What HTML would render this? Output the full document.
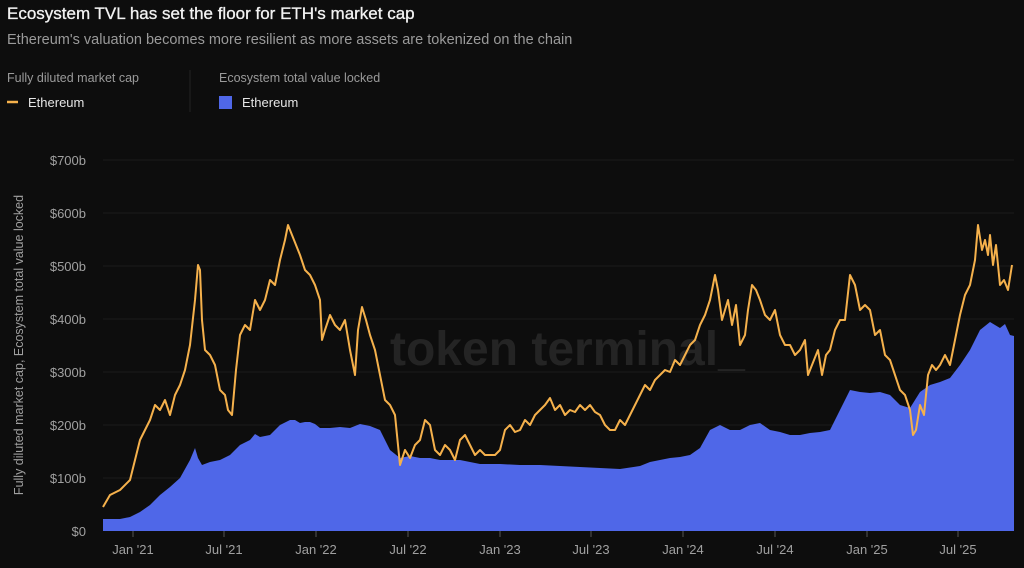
<!DOCTYPE html><html><head><meta charset="utf-8"><style>
body{margin:0;background:#0d0d0d;width:1024px;height:563px;overflow:hidden;font-family:"Liberation Sans",sans-serif}
</style></head><body>
<svg width="1024" height="563" xmlns="http://www.w3.org/2000/svg" font-family="Liberation Sans, sans-serif">
<rect width="1024" height="563" fill="#0d0d0d"/>
<text x="7" y="19" fill="#f2f2f2" font-size="17" stroke="#f2f2f2" stroke-width="0.3">Ecosystem TVL has set the floor for ETH's market cap</text>
<text x="7" y="44" fill="#9a9a9a" font-size="14.5">Ethereum's valuation becomes more resilient as more assets are tokenized on the chain</text>
<text x="7" y="82" fill="#9a9a9a" font-size="12.5">Fully diluted market cap</text>
<line x1="7" y1="102" x2="18" y2="102" stroke="#f5b14c" stroke-width="2.5"/>
<text x="28" y="107" fill="#e6e6e6" font-size="13">Ethereum</text>
<line x1="190" y1="70" x2="190" y2="112" stroke="#222" stroke-width="1"/>
<text x="219" y="82" fill="#9a9a9a" font-size="12.5">Ecosystem total value locked</text>
<rect x="219" y="96" width="13" height="13" fill="#4f67e8"/>
<text x="242" y="107" fill="#e6e6e6" font-size="13">Ethereum</text>
<g stroke="#1a1a1a" stroke-width="1">
<line x1="103" x2="1014" y1="160" y2="160"/><line x1="103" x2="1014" y1="213" y2="213"/><line x1="103" x2="1014" y1="266" y2="266"/><line x1="103" x2="1014" y1="319" y2="319"/><line x1="103" x2="1014" y1="372" y2="372"/><line x1="103" x2="1014" y1="425" y2="425"/><line x1="103" x2="1014" y1="478" y2="478"/>
</g>
<g fill="#a0a0a0" font-size="13" text-anchor="end">
<text x="86" y="165">$700b</text><text x="86" y="218">$600b</text><text x="86" y="271">$500b</text><text x="86" y="324">$400b</text><text x="86" y="377">$300b</text><text x="86" y="430">$200b</text><text x="86" y="483">$100b</text><text x="86" y="536">$0</text>
</g>
<text transform="translate(23,345) rotate(-90)" fill="#a0a0a0" font-size="12.5" text-anchor="middle">Fully diluted market cap, Ecosystem total value locked</text>
<text x="390" y="365" fill="#242424" font-size="48" font-weight="bold">token terminal_</text>
<polygon fill="#4f67e8" points="103,531 103,519 120,519 130,517 140,512 150,505 160,495 170,487 180,478 190,460 195,448 198,458 202,465 210,462 220,460 230,455 240,445 250,440 255,434 260,437 270,435 280,425 290,420 295,420 300,423 305,422 310,422 315,424 320,428 330,428 340,427 350,428 360,424 370,426 380,430 390,450 400,458 410,456 420,458 430,458 440,460 450,460 460,460 470,462 480,464 490,464 500,464 520,465 540,465 560,466 580,467 600,468 620,469 640,466 650,462 660,460 670,458 680,457 690,455 700,448 710,430 720,425 730,430 740,430 750,425 760,423 770,430 780,432 790,435 800,435 810,433 820,432 830,430 840,410 850,390 860,392 870,393 880,392 890,395 900,405 910,408 920,392 930,385 940,382 950,378 960,365 970,350 980,330 990,322 1000,328 1005,324 1010,335 1014,336 1014,531"/>
<polyline fill="none" stroke="#f5b14c" stroke-width="2" stroke-linejoin="round" points="103,507 110,495 120,490 130,480 135,460 140,440 145,430 150,420 155,405 160,410 165,400 170,415 175,395 180,385 185,370 190,345 195,300 198,265 200,270 202,320 205,350 210,355 215,365 220,390 225,395 228,410 232,415 236,370 240,335 245,325 250,330 255,300 260,310 265,300 270,280 275,285 280,260 285,240 288,225 292,235 296,245 300,255 305,270 310,275 315,285 320,300 322,340 325,330 330,315 335,325 340,330 345,320 350,350 355,375 358,330 362,307 366,320 370,335 375,350 380,375 385,400 390,405 395,415 400,465 405,450 410,458 415,445 420,440 425,420 430,425 435,450 440,455 445,445 450,450 455,460 460,440 465,435 470,445 475,455 480,450 485,455 490,455 495,455 500,450 505,430 510,425 515,432 520,430 525,420 530,425 535,415 540,410 545,405 550,398 555,410 560,405 565,415 570,410 575,412 580,405 585,410 590,405 595,412 600,415 605,425 610,430 615,430 620,420 625,425 630,415 635,405 640,395 645,385 650,390 655,380 660,375 665,370 670,372 675,360 680,365 685,355 690,345 695,340 700,325 705,315 710,300 715,275 718,290 722,320 728,300 732,325 736,305 740,345 745,335 748,310 752,285 756,290 760,300 765,315 770,320 775,310 780,335 785,345 790,345 795,355 800,350 805,340 808,375 812,365 818,350 822,375 826,355 830,350 835,330 840,320 845,320 850,275 855,285 860,310 865,305 870,310 875,335 880,330 885,355 890,360 895,375 900,390 905,395 910,410 913,435 916,430 920,405 924,415 928,375 932,365 936,370 940,365 945,355 950,365 955,340 960,315 965,295 970,285 975,260 978,225 982,250 985,240 988,255 990,235 993,265 996,245 1000,285 1004,280 1008,290 1012,265"/>
<g stroke="#555" stroke-width="1"><line x1="133" x2="133" y1="531" y2="537"/><line x1="224" x2="224" y1="531" y2="537"/><line x1="316" x2="316" y1="531" y2="537"/><line x1="408" x2="408" y1="531" y2="537"/><line x1="500" x2="500" y1="531" y2="537"/><line x1="591" x2="591" y1="531" y2="537"/><line x1="683" x2="683" y1="531" y2="537"/><line x1="775" x2="775" y1="531" y2="537"/><line x1="867" x2="867" y1="531" y2="537"/><line x1="958" x2="958" y1="531" y2="537"/></g>
<g fill="#a0a0a0" font-size="13" text-anchor="middle">
<text x="133" y="554">Jan '21</text><text x="224" y="554">Jul '21</text><text x="316" y="554">Jan '22</text><text x="408" y="554">Jul '22</text><text x="500" y="554">Jan '23</text><text x="591" y="554">Jul '23</text><text x="683" y="554">Jan '24</text><text x="775" y="554">Jul '24</text><text x="867" y="554">Jan '25</text><text x="958" y="554">Jul '25</text>
</g>
</svg>
</body></html>
